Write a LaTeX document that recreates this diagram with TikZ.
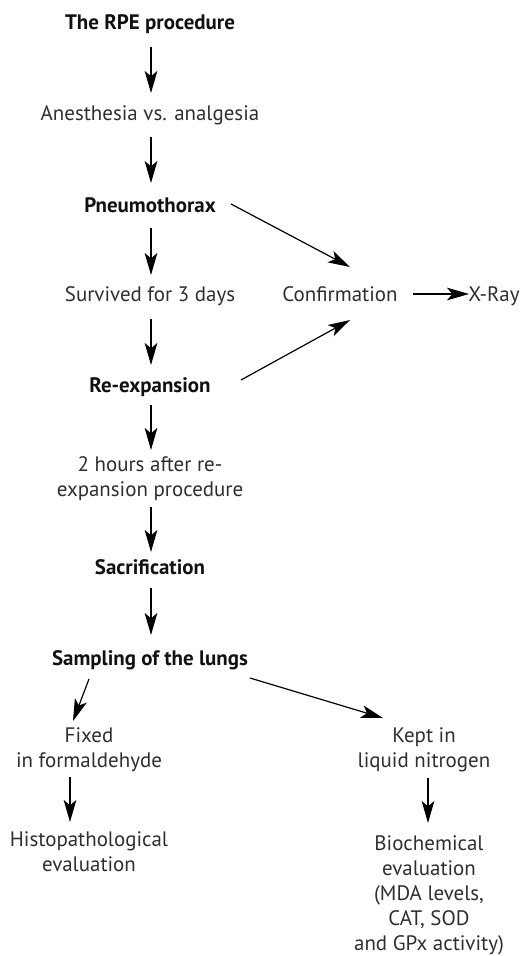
\documentclass[tikz,border=0pt]{standalone}
\usepackage{fontspec}
\setmainfont{PT Sans}
\usetikzlibrary{arrows.meta,calc}
\definecolor{txt}{HTML}{2E2E2E}
\definecolor{hd}{HTML}{111111}
\tikzset{
  plain/.style={font=\fontsize{15.7pt}{18.75pt}\selectfont, text=txt, align=center, inner sep=0pt},
  head/.style={font=\fontsize{15.7pt}{18.75pt}\selectfont\bfseries, text=hd, align=center, inner sep=0pt},
  one/.style={text height=10.7pt, text depth=0pt},
  arr/.style={draw=black, line width=0.9pt, -{Stealth[length=16.5pt,width=9.5pt,inset=4pt]}}
}
\begin{document}
\begin{tikzpicture}[x=0.75pt,y=-0.75pt]
\useasboundingbox (0,0) rectangle (528,956);
\node[head,one]  (rpe)   at (150,22)  {The RPE procedure};
\node[plain,one] (anes)  at (150,113) {Anesthesia vs. analgesia};
\node[head,one]  (pneu)  at (150,205) {Pneumothorax};
\node[plain,one] (surv)  at (150,294) {Survived for 3 days};
\node[plain,one] (conf)  at (340,294) {Confirmation};
\node[plain,one] (xray)  at (494,294) {X-Ray};
\node[head,one]  (reex)  at (150,385) {Re-expansion};
\node[plain] (hours) at (150,479) {2 hours after re-\\expansion procedure};
\node[head,one]  (sacr)  at (150,567) {Sacrification};
\node[head,one]  (samp)  at (150,658) {Sampling of the lungs};
\node[plain] (fixed) at (89,750)  {Fixed\\in formaldehyde};
\node[plain] (kept)  at (424,750) {Kept in\\liquid nitrogen};
\node[plain] (histo) at (89,852)  {Histopathological\\evaluation};
\node[plain] (bio)   at (429,895) {Biochemical\\evaluation\\(MDA levels,\\CAT, SOD\\and GPx activity)};

\draw[arr] ($(rpe)+(1,25)$) -- ($(anes)+(1,-20)$);
\draw[arr] ($(anes)+(1,24)$) -- ($(pneu)+(1,-22)$);
\draw[arr] ($(pneu)+(1,23)$) -- ($(surv)+(1,-19)$);
\draw[arr] ($(surv)+(1,25)$) -- ($(reex)+(1,-20)$);
\draw[arr] ($(reex)+(1,20)$) -- ($(hours)+(1,-29)$);
\draw[arr] ($(hours)+(1,28)$) -- ($(sacr)+(1,-15)$);
\draw[arr] ($(sacr)+(1,21)$) -- ($(samp)+(1,-23)$);
\draw[arr] ($(pneu)+(81,-1)$) -- ($(conf)+(10,-27)$);
\draw[arr] ($(reex)+(91,-5)$) -- ($(conf)+(10,26)$);
\draw[arr] ($(conf)+(73,0)$) -- ($(xray)+(-25,0)$);
\draw[arr] ($(samp)+(-61,21)$) -- ($(fixed)+(-16,-29)$);
\draw[arr] ($(samp)+(100,20)$) -- ($(kept)+(-41,-32)$);
\draw[arr] ($(fixed)+(-19,27)$) -- ($(histo)+(-19,-30)$);
\draw[arr] ($(kept)+(4,28)$) -- ($(bio)+(-1,-72)$);
\end{tikzpicture}
\end{document}
